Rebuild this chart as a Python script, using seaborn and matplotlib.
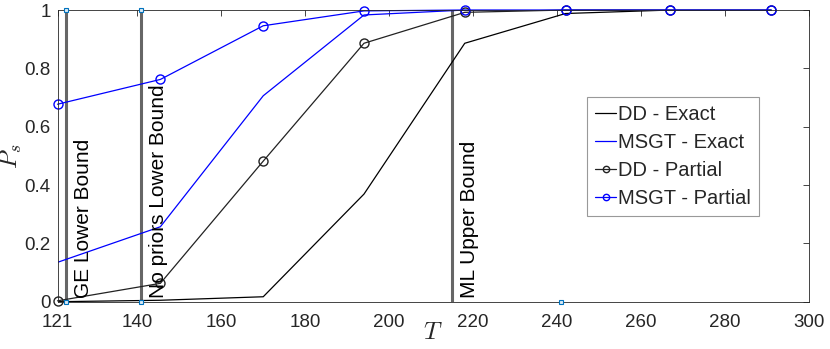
import matplotlib
matplotlib.use("Agg")
import matplotlib.pyplot as plt
import numpy as np
import pandas as pd
import seaborn as sns

# data
T = [121, 145.5, 170, 194, 218, 242, 267, 291]
dd_exact = [0.0, 0.005, 0.017, 0.369, 0.886, 0.988, 1.0, 1.0]
msgt_exact = [0.135, 0.257, 0.706, 0.983, 1.0, 1.0, 1.0, 1.0]
dd_partial = [0.003, 0.063, 0.482, 0.886, 0.992, 1.0, 1.0, 1.0]
msgt_partial = [0.677, 0.762, 0.946, 0.997, 1.0, 1.0, 1.0, 1.0]

bound_x = [123, 141, 215]
bound_labels = ["GE Lower Bound", "No priors Lower Bound", "ML Upper Bound"]
sq_x = [123, 123, 141, 141, 241]
sq_y = [0, 1, 0, 1, 0]

xticks = [121, 140, 160, 180, 200, 220, 240, 260, 280, 300]
yticks = [0, 0.2, 0.4, 0.6, 0.8, 1]
ytick_labels = ["0", "0.2", "0.4", "0.6", "0.8", "1"]

sns.set_style("white")
plt.rcParams["font.family"] = ["Liberation Sans", "DejaVu Sans"]
plt.rcParams["mathtext.fontset"] = "cm"

df = pd.DataFrame({"T": T, "dd_e": dd_exact, "msgt_e": msgt_exact,
                   "dd_p": dd_partial, "msgt_p": msgt_partial})

fig = plt.figure(figsize=(8.3, 3.49), dpi=100)
ax = fig.add_axes([0.0693, 0.1355, 0.9054, 0.8358])

# bound lines
for bx, lab in zip(bound_x, bound_labels):
    ax.plot([bx, bx], [0, 1], color="#666666", lw=2.2, zorder=1)
    ax.text(bx + 1.9, 0.012, lab, rotation=90, ha="left", va="bottom",
            fontsize=15, color="black")
ax.plot(sq_x, sq_y, ls="none", marker="s", ms=3.5, mfc="#dceaf5",
        mec="#0072bd", mew=0.8, zorder=3, clip_on=False)

sns.lineplot(data=df, x="T", y="dd_e", color="black", lw=0.9, ax=ax,
             label="DD - Exact")
sns.lineplot(data=df, x="T", y="msgt_e", color="blue", lw=0.9, ax=ax,
             label="MSGT - Exact")
sns.lineplot(data=df, x="T", y="dd_p", color="#222222", lw=0.9, ax=ax,
             marker="o", ms=6.5, mfc="none", mec="#222222", mew=1.0,
             label="DD - Partial", clip_on=False)
sns.lineplot(data=df, x="T", y="msgt_p", color="blue", lw=0.9, ax=ax,
             marker="o", ms=6.5, mfc="none", mec="blue", mew=1.0,
             label="MSGT - Partial", clip_on=False)

ax.set_xlim(121, 300)
ax.set_ylim(0, 1)
ax.set_xticks(xticks)
ax.set_yticks(yticks)
ax.set_yticklabels(ytick_labels)
ax.tick_params(direction="in", length=4, width=0.6, colors="#262626",
               labelsize=13.5, top=True, right=True)
ax.tick_params(axis="x", pad=9)
ax.tick_params(axis="y", pad=5)
for s in ax.spines.values():
    s.set_color("#262626")
    s.set_linewidth(0.6)

ax.set_xlabel("$T$", fontsize=18, labelpad=-8)
ax.set_ylabel("$P_s$", fontsize=18, labelpad=0)

leg = ax.legend(loc="upper left", bbox_to_anchor=(0.7046, 0.7018),
                fontsize=14.5, frameon=True, fancybox=False,
                edgecolor="#999999", framealpha=1, borderpad=0.4,
                labelspacing=0.45, handlelength=1.05, handletextpad=0.1,
                borderaxespad=0, markerscale=0.7)
leg.get_frame().set_linewidth(0.8)

fig.savefig("out.png", dpi=100)
